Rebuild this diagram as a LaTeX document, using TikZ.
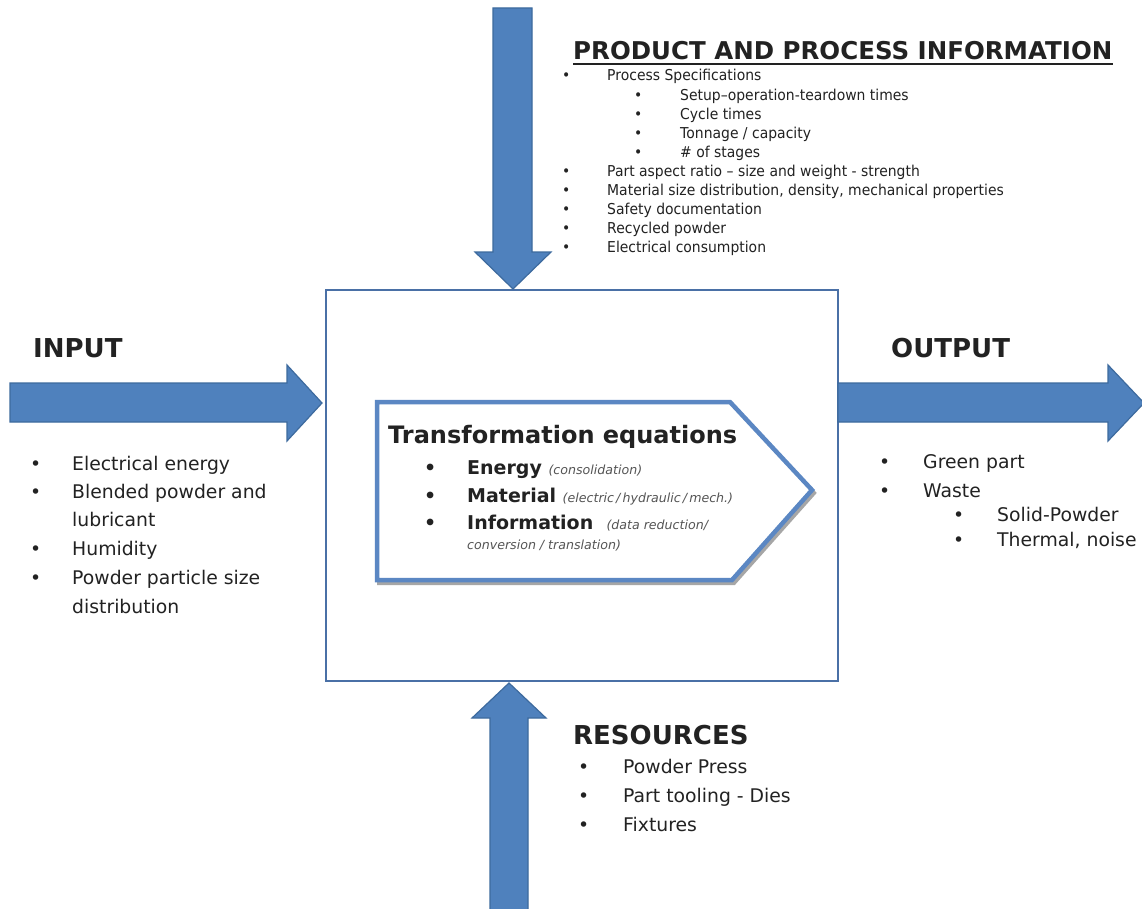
\documentclass[tikz,border=0pt]{standalone}
\usepackage{fontspec}
\setmainfont{DejaVu Sans}
\newfontfamily\condfont[FakeStretch=0.93]{DejaVu Sans}
\definecolor{arrowfill}{HTML}{4F81BD}
\definecolor{arrowline}{HTML}{3D6A9E}
\definecolor{boxline}{HTML}{4A70A6}
\definecolor{pentline}{HTML}{5B87C3}
\definecolor{txt}{HTML}{222222}
\definecolor{subtxt}{HTML}{555555}
\newcommand\eqnote[1]{{\itshape\mdseries\fontsize{12.6}{12.6}\selectfont\color{subtxt}#1}}
\tikzset{
  blockarrow/.style={fill=arrowfill, draw=arrowline, line width=1.2pt, line join=miter},
  heading/.style={anchor=base west, inner sep=0pt, text=txt, font=\bfseries\fontsize{26}{26}\selectfont},
  item/.style={anchor=base west, inner sep=0pt, text=txt, font=\fontsize{18.8}{18.8}\selectfont},
  topitem/.style={anchor=base west, inner sep=0pt, text=txt, font=\condfont\fontsize{15}{15}\selectfont},
  eqitem/.style={anchor=base west, inner sep=0pt, text=txt, font=\bfseries\fontsize{19}{19}\selectfont}
}
\begin{document}
\begin{tikzpicture}[x=1pt,y=-1pt]
\useasboundingbox (0,0) rectangle (1142,909);
\fill[white] (0,0) rectangle (1142,909);

% main process box
\node[draw=boxline, line width=1.5pt, minimum width=512pt, minimum height=391pt, inner sep=0pt, anchor=north west] (proc) at (325,289) {};

% arrows
\coordinate (toptip) at (513,289);
\coordinate (intip) at (322,403);
\coordinate (outtip) at (1144,403);
\coordinate (bottip) at (509,683);
\draw[blockarrow] (493,8) -- (532,8) -- (532,252) -- (551,252) -- (toptip) -- (475,252) -- (493,252) -- cycle;
\draw[blockarrow] (10,383) -- (287,383) -- (287,365) -- (intip) -- (287,441) -- (287,422) -- (10,422) -- cycle;
\draw[blockarrow] (838,383) -- (1108,383) -- (1108,365) -- (outtip) -- (1108,441) -- (1108,422) -- (838,422) -- cycle;
\draw[blockarrow] (490,915) -- (490,718) -- (472,718) -- (bottip) -- (546,718) -- (528,718) -- (528,915) -- cycle;

% transformation pentagon
\draw[gray!70, line width=4pt, line join=miter] (379,405) -- (732,405) -- (814,493) -- (734,583) -- (379,583) -- cycle;
\draw[pentline, line width=4.5pt, line join=miter, fill=white] (377,402) -- (730,402) -- (812,490) -- (732,580) -- (377,580) -- cycle;

\node[anchor=base west, inner sep=0pt, text=txt, font=\bfseries\fontsize{24}{24}\selectfont] (teq) at (388,443) {Transformation equations};
\node[eqitem] (eb1) at (424,474) {•};
\node[eqitem] (e1) at (467,474) {Energy \eqnote{(consolidation)}};
\node[eqitem] (eb2) at (424,502) {•};
\node[eqitem] (e2) at (467,502) {Material \eqnote{(electric\,/\,hydraulic\,/\,mech.)}};
\node[eqitem] (eb3) at (424,529) {•};
\node[eqitem] (e3) at (467,529) {Information \ \eqnote{(data reduction/}};
\node[anchor=base west, inner sep=0pt] (e4) at (467,549) {\eqnote{conversion / translation)}};

% product and process information
\node[anchor=base west, inner sep=0pt, text=txt, font=\bfseries\fontsize{24.5}{24.5}\selectfont] (ttl) at (573,60) {PRODUCT AND PROCESS INFORMATION};
\draw[txt, line width=1.5pt] ([yshift=-4pt]ttl.base west) -- ([yshift=-4pt]ttl.base east);
\node[topitem] (tb1) at (562,81) {•};  \node[topitem] (t1) at (607,81) {Process Specifications};
\node[topitem] (tb2) at (634,101) {•}; \node[topitem] (t2) at (680,101) {Setup–operation-teardown times};
\node[topitem] (tb3) at (634,120) {•}; \node[topitem] (t3) at (680,120) {Cycle times};
\node[topitem] (tb4) at (634,139) {•}; \node[topitem] (t4) at (680,139) {Tonnage / capacity};
\node[topitem] (tb5) at (634,158) {•}; \node[topitem] (t5) at (680,158) {\# of stages};
\node[topitem] (tb6) at (562,177) {•}; \node[topitem] (t6) at (607,177) {Part aspect ratio – size and weight - strength};
\node[topitem] (tb7) at (562,196) {•}; \node[topitem] (t7) at (607,196) {Material size distribution, density, mechanical properties};
\node[topitem] (tb8) at (562,215) {•}; \node[topitem] (t8) at (607,215) {Safety documentation};
\node[topitem] (tb9) at (562,234) {•}; \node[topitem] (t9) at (607,234) {Recycled powder};
\node[topitem] (tb10) at (562,253) {•}; \node[topitem] (t10) at (607,253) {Electrical consumption};

% input
\node[heading] (inh) at (33,357) {INPUT};
\node[item] (ib1) at (30,470) {•}; \node[item] (i1) at (72,470) {Electrical energy};
\node[item] (ib2) at (30,498) {•}; \node[item] (i2) at (72,498) {Blended powder and};
\node[item] (i2b) at (72,526) {lubricant};
\node[item] (ib3) at (30,555) {•}; \node[item] (i3) at (72,555) {Humidity};
\node[item] (ib4) at (30,584) {•}; \node[item] (i4) at (72,584) {Powder particle size};
\node[item] (i4b) at (72,613) {distribution};

% output
\node[heading] (outh) at (891,357) {OUTPUT};
\node[item] (ob1) at (879,468) {•}; \node[item] (o1) at (923,468) {Green part};
\node[item] (ob2) at (879,497) {•}; \node[item] (o2) at (923,497) {Waste};
\node[item] (ob3) at (953,521) {•}; \node[item] (o3) at (997,521) {Solid-Powder};
\node[item] (ob4) at (953,546) {•}; \node[item] (o4) at (997,546) {Thermal, noise};

% resources
\node[heading] (resh) at (573,744) {RESOURCES};
\node[item] (rb1) at (578,773) {•}; \node[item] (r1) at (623,773) {Powder Press};
\node[item] (rb2) at (578,802) {•}; \node[item] (r2) at (623,802) {Part tooling - Dies};
\node[item] (rb3) at (578,831) {•}; \node[item] (r3) at (623,831) {Fixtures};
\end{tikzpicture}
\end{document}
